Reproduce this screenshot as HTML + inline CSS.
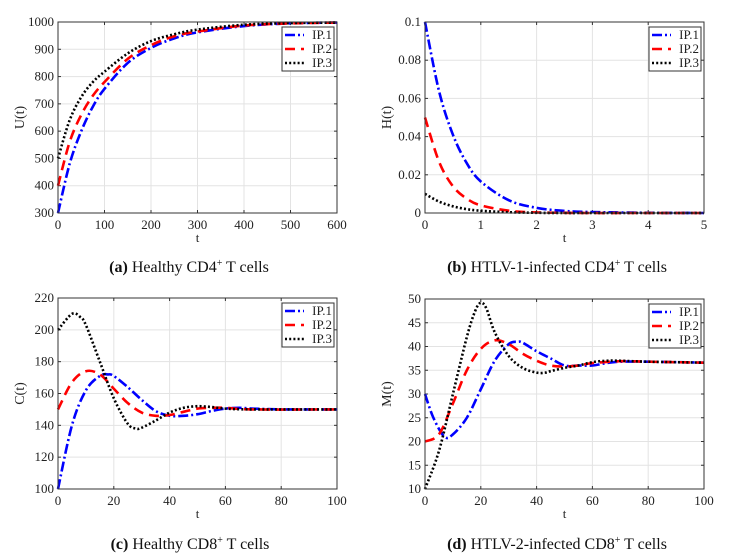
<!DOCTYPE html>
<html><head><meta charset="utf-8">
<style>
html,body{margin:0;padding:0;background:#fff;}
svg{display:block;font-family:"Liberation Serif",serif;}
</style></head>
<body>
<svg id="fig" width="740" height="558" viewBox="0 0 740 558" xmlns="http://www.w3.org/2000/svg"></svg>
<script>
// ---- data ----
const aT = [0,25,50,75,100,150,200,250,300,400,500,600];
const aIP1 = [300,480,600,690,755,850,905,940,962,985,995,998];
const aIP2 = [400,560,660,730,780,865,915,948,965,987,995,998];
const aIP3 = [500,640,725,780,818,885,930,955,972,990,996,998];
const aXTicks = [0,100,200,300,400,500,600];
const aYTicks = [300,400,500,600,700,800,900,1000];

const bT = [0,0.25,0.5,0.75,1,1.5,2,2.5,3,4,5];
const bIP1 = [0.1,0.064,0.041,0.026,0.0165,0.0067,0.0027,0.0011,0.0005,0.0001,0];
const bIP2 = [0.05,0.027,0.014,0.0075,0.004,0.0012,0.0003,0.0001,0,0,0];
const bIP3 = [0.01,0.006,0.0035,0.002,0.0012,0.0004,0.0001,0,0,0,0];
const bXTicks = [0,1,2,3,4,5];
const bYTicks = [0,0.02,0.04,0.06,0.08,0.1];
const bYLabels = ["0","0.02","0.04","0.06","0.08","0.1"];

const cT1 = [0,5,10,15,18,20,25,30,35,40,45,50,55,60,65,70,80,90,100];
const cIP1 = [100,140,162,171,172,171,164,156,149,146,146,147,149,150.5,151,150.5,150,150,150];
const cT2 = [0,5,10,15,20,25,30,35,40,45,50,55,60,70,100];
const cIP2 = [150,167,174,172,163,154,148,146,146.5,148.5,150.5,151,151,150,150];
const cT3 = [0,5,8,10,15,20,25,28,30,35,40,45,50,55,60,70,100];
const cIP3 = [200,210,208,203,180,157,141,138,138.5,143,148,151,152,151.5,150.5,150,150];
const cXTicks = [0,20,40,60,80,100];
const cYTicks = [100,120,140,160,180,200,220];

const dT1 = [0,3,7,10,15,20,25,30,33,35,40,45,50,55,60,65,70,80,90,100];
const dIP1 = [30,25,21,21.5,25,31,37,40.5,41,40.8,39,37.5,36,36,36,36.5,36.8,36.8,36.7,36.6];
const dT2 = [0,5,10,15,20,25,30,35,40,45,50,55,60,70,80,100];
const dIP2 = [20,21.5,28,35,39.5,41.3,40.5,38.5,37,36,35.8,36,36.5,36.9,36.8,36.6];
const dT3 = [0,5,10,15,18,20,22,25,30,35,40,43,45,50,55,60,65,70,80,100];
const dIP3 = [10,18,30,42,47.5,49.2,48,43,38,35.5,34.5,34.5,34.8,35.5,36,36.7,37,37,36.8,36.6];
const dXTicks = [0,20,40,60,80,100];
const dYTicks = [10,15,20,25,30,35,40,45,50];

const NS="http://www.w3.org/2000/svg";
const fig=document.getElementById('fig');
function mk(tag,attrs,parent){const e=document.createElementNS(NS,tag);for(const k in attrs)e.setAttribute(k,attrs[k]);(parent||fig).appendChild(e);return e;}
const styles={
 ip1:{stroke:'#0000ff',dash:'10,3,2,3',name:'IP.1'},
 ip2:{stroke:'#ff0000',dash:'10,6',name:'IP.2'},
 ip3:{stroke:'#000000',dash:'2,2.2',name:'IP.3'}
};
function smoothPath(pts){
 let d='M'+pts[0][0].toFixed(2)+','+pts[0][1].toFixed(2);
 for(let i=0;i<pts.length-1;i++){
  const p0=pts[i-1]||pts[i],p1=pts[i],p2=pts[i+1],p3=pts[i+2]||p2;
  const c1=[p1[0]+(p2[0]-p0[0])/6,p1[1]+(p2[1]-p0[1])/6];
  const c2=[p2[0]-(p3[0]-p1[0])/6,p2[1]-(p3[1]-p1[1])/6];
  d+=' C'+c1[0].toFixed(2)+','+c1[1].toFixed(2)+' '+c2[0].toFixed(2)+','+c2[1].toFixed(2)+' '+p2[0].toFixed(2)+','+p2[1].toFixed(2);
 }
 return d;
}
function panel(cfg){
 const g=mk('g',{});
 
 
 const {x0,x1,y0,y1,xmin,xmax,ymin,ymax}=cfg;
 const sx=v=>x0+(v-xmin)/(xmax-xmin)*(x1-x0);
 const sy=v=>y0-(v-ymin)/(ymax-ymin)*(y0-y1);
 mk('rect',{x:x0,y:y1,width:x1-x0,height:y0-y1,fill:'#fff'},g);
 cfg.xt.forEach(v=>{
  const l=mk('line',{x1:sx(v),x2:sx(v),y1:y1,y2:y0,stroke:'#e3e3e3','stroke-width':1},g);
  
  mk('line',{x1:sx(v),x2:sx(v),y1:y0,y2:y0-3,stroke:'#333'},g);
  mk('line',{x1:sx(v),x2:sx(v),y1:y1,y2:y1+3,stroke:'#333'},g);
  const t=mk('text',{x:sx(v),y:y0+16,'text-anchor':'middle','font-size':13,fill:'#222'},g);
  t.textContent=String(v);
  
 });
 cfg.yt.forEach((v,i)=>{
  const l=mk('line',{x1:x0,x2:x1,y1:sy(v),y2:sy(v),stroke:'#e3e3e3','stroke-width':1},g);
  
  mk('line',{x1:x0,x2:x0+3,y1:sy(v),y2:sy(v),stroke:'#333'},g);
  mk('line',{x1:x1,x2:x1-3,y1:sy(v),y2:sy(v),stroke:'#333'},g);
  const t=mk('text',{x:x0-4,y:sy(v)+4,'text-anchor':'end','font-size':13,fill:'#222'},g);
  t.textContent=cfg.yl?cfg.yl[i]:String(v);
  
 });
 cfg.series.forEach(s=>{
  const st=styles[s.key];
  const pts=s.t.map((tv,i)=>[sx(tv),sy(s.v[i])]);
  const p=mk('path',{d:smoothPath(pts),fill:'none',stroke:st.stroke,'stroke-width':2.6,'stroke-dasharray':st.dash},g);
  
  
 });
 mk('rect',{x:x0,y:y1,width:x1-x0,height:y0-y1,fill:'none',stroke:'#333','stroke-width':1},g);
 const lx=x1-55,ly=y1+5;
 const lg=mk('g',{},g);
 
 mk('rect',{x:lx,y:ly,width:52,height:44,fill:'#fff',stroke:'#333','stroke-width':1},lg);
 ['ip1','ip2','ip3'].forEach((k,i)=>{
  const st=styles[k];const yy=ly+8+i*14;
  const e=mk('g',{},lg);
  
  mk('line',{x1:lx+3,x2:lx+22,y1:yy,y2:yy,stroke:st.stroke,'stroke-width':2.6,'stroke-dasharray':st.dash},e);
  const t=mk('text',{x:lx+50,y:yy+4,'text-anchor':'end','font-size':13,fill:'#222'},e);
  t.textContent=st.name;
 });
 const xl=mk('text',{x:(x0+x1)/2,y:y0+29,'text-anchor':'middle','font-size':13,fill:'#222'},g);
 xl.textContent='t';
 const yx=x0-34,yy=(y0+y1)/2;
 const yl=mk('text',{x:yx,y:yy,'text-anchor':'middle','font-size':14,fill:'#222',transform:'rotate(-90 '+yx+' '+yy+')'},g);
 yl.textContent=cfg.ylabel;
 const cap=mk('text',{x:cfg.capx,y:cfg.capy,'text-anchor':'middle','font-size':16,fill:'#111'},g);
 
 const b=mk('tspan',{'font-weight':'bold'},cap);b.textContent=cfg.cap[0]+' ';
 const t1=mk('tspan',{},cap);t1.textContent=cfg.cap[1];
 const sup=mk('tspan',{'font-size':10,dy:-6},cap);sup.textContent='+';
 const t2=mk('tspan',{dy:6},cap);t2.textContent=' T cells';
}
panel({id:'a',x0:58,x1:337,y0:213,y1:22,xmin:0,xmax:600,ymin:300,ymax:1000,xt:aXTicks,yt:aYTicks,ylabel:'U(t)',
 series:[{key:'ip1',t:aT,v:aIP1},{key:'ip2',t:aT,v:aIP2},{key:'ip3',t:aT,v:aIP3}],cap:['(a)','Healthy CD4'],capx:189,capy:272});
panel({id:'b',x0:425,x1:704,y0:213,y1:22,xmin:0,xmax:5,ymin:0,ymax:0.1,xt:bXTicks,yt:bYTicks,yl:bYLabels,ylabel:'H(t)',
 series:[{key:'ip1',t:bT,v:bIP1},{key:'ip2',t:bT,v:bIP2},{key:'ip3',t:bT,v:bIP3}],cap:['(b)','HTLV-1-infected CD4'],capx:557,capy:272});
panel({id:'c',x0:58,x1:337,y0:489,y1:298,xmin:0,xmax:100,ymin:100,ymax:220,xt:cXTicks,yt:cYTicks,ylabel:'C(t)',
 series:[{key:'ip1',t:cT1,v:cIP1},{key:'ip2',t:cT2,v:cIP2},{key:'ip3',t:cT3,v:cIP3}],cap:['(c)','Healthy CD8'],capx:190,capy:549});
panel({id:'d',x0:425,x1:704,y0:489,y1:299,xmin:0,xmax:100,ymin:10,ymax:50,xt:dXTicks,yt:dYTicks,ylabel:'M(t)',
 series:[{key:'ip1',t:dT1,v:dIP1},{key:'ip2',t:dT2,v:dIP2},{key:'ip3',t:dT3,v:dIP3}],cap:['(d)','HTLV-2-infected CD8'],capx:557,capy:549});
</script>
</body></html>
